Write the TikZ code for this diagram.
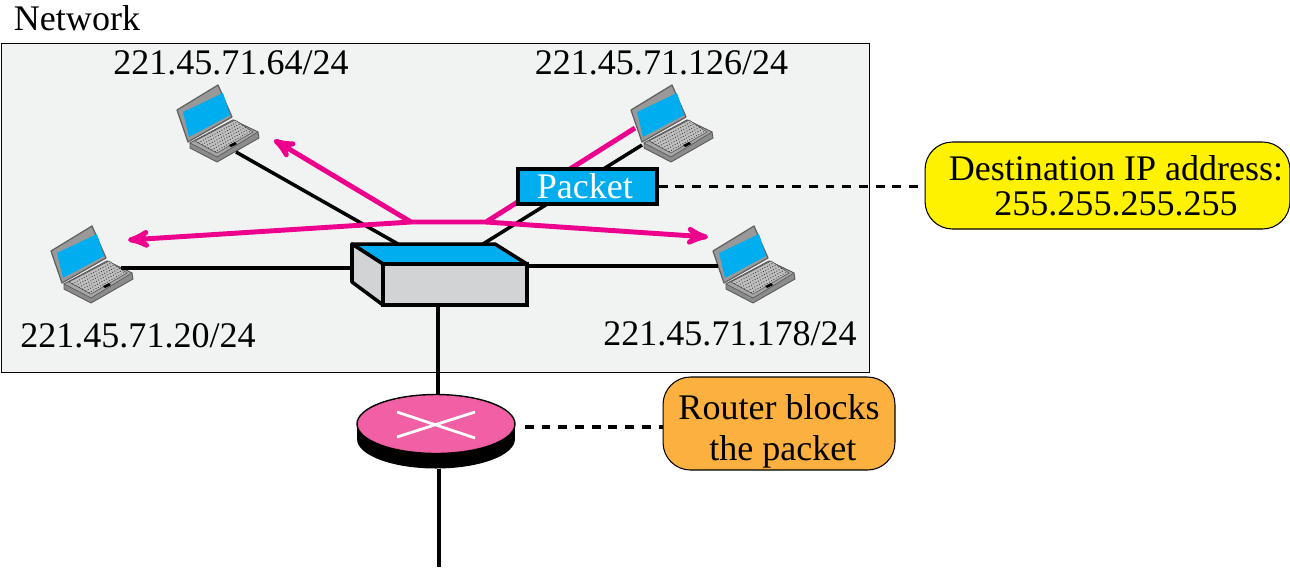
\documentclass[tikz,border=0pt]{standalone}
\usepackage{fontspec}
\setmainfont{Liberation Serif}
\usepackage{tikz}
\usetikzlibrary{arrows,positioning,calc,shapes.geometric}
\definecolor{netgray}{HTML}{F1F2F2}
\definecolor{boxgray}{HTML}{D1D3D4}
\definecolor{pktblue}{HTML}{00AEEF}
\definecolor{flowpink}{HTML}{EC008C}
\definecolor{routerpink}{HTML}{F15FA5}
\definecolor{noteyellow}{HTML}{FFF200}
\definecolor{noteorange}{HTML}{FBB040}
\newcommand{\lbl}{\fontsize{20.5}{20}\selectfont}

\tikzset{
  laptop/.pic={
    \draw[fill=gray!80,draw=gray!75!black,line width=.7pt,line join=round] (0,25) -- (41,0) -- (55,32) -- (11,57) -- cycle;
    \fill[pktblue] (6,27) -- (46,8) -- (53,30) -- (12,52) -- cycle;
    \draw[fill=gray!90,draw=gray!70!black,line width=.5pt,line join=round] (13,58) -- (56,35) -- (81,47) -- (82,53) -- (40,77) -- (13,63) -- cycle;
    \draw[fill=gray!70,draw=gray!70!black,line width=.4pt] (13,58) -- (56,35) -- (81,47) -- (40,72) -- cycle;
    \draw[fill=gray!50,draw=gray!60!black,line width=.3pt] (18,56) -- (58,35) -- (76,47) -- (40,68) -- cycle;
    \foreach \k in {.15,.3,.45,.6,.75,.9}
      \draw[gray!45!black,line width=.5pt,densely dotted] ($(18,56)!\k!(40,68)$) -- ($(58,35)!\k!(76,47)$);
    \fill[black] (52,60) -- (58,57) -- (60,59) -- (54,62) -- cycle;
    \coordinate (-south) at (59,67);
    \coordinate (-west) at (11,60);
    \coordinate (-east) at (70,42);
    \coordinate (-side) at (5,40);
  },
  link/.style={line width=2pt,black},
  leader/.style={line width=2pt,black,dash pattern=on 5pt off 4.5pt},
  flow/.style={line width=2.8pt,flowpink},
  flowhead/.style={flow,-stealth'},
  note/.style={draw=black,line width=.6pt,rounded corners=.55cm,align=center},
  addr/.style={font=\lbl,inner sep=0pt}
}

\begin{document}
\begin{tikzpicture}[x=0.02cm,y=-0.02cm]
  \useasboundingbox (0,0) rectangle (1290,569);

  % network area
  \node[draw=black,line width=.5pt,fill=netgray,minimum width=17.38cm,minimum height=6.58cm,inner sep=0pt] (net) at (435.5,207.5) {};
  \node[addr] (netname) at (77,18) {Network};

  % hosts
  \pic (hostTL) at (177,85) {laptop};
  \pic (hostTR) at (631,85) {laptop};
  \pic (hostL) at (51,226) {laptop};
  \pic (hostR) at (713,226) {laptop};

  \node[addr] (addrTL) at (231,63) {221.45.71.64/24};
  \node[addr] (addrTR) at (661.5,63) {221.45.71.126/24};
  \node[addr] (addrL) at (138,336) {221.45.71.20/24};
  \node[addr] (addrR) at (730,334) {221.45.71.178/24};

  % switch
  \coordinate (swTL) at (398,244);
  \coordinate (swTR) at (483,244);
  \coordinate (swL) at (352,268);
  \coordinate (swR) at (527,266);
  \coordinate (swB) at (438,305);
  \draw[link] (hostTL-south) -- (swTL);
  \draw[link] (hostTR-west) -- (swTR);
  \draw[link] (hostL-east) -- (swL);
  \draw[link] (hostR-side) -- (swR);

  \draw[link,line join=round,fill=pktblue] (352,244) -- (495,244) -- (527,264) -- (383,264) -- cycle;
  \draw[link,line join=round,fill=boxgray] (352,244) -- (383,264) -- (383,305) -- (352,282) -- cycle;
  \node[draw=black,line width=2pt,fill=boxgray,minimum width=2.88cm,minimum height=.82cm,inner sep=0pt] (switch) at (455,284.5) {};

  % broadcast flow
  \coordinate (flowA) at (411,222);
  \coordinate (flowB) at (486,222);
  \coordinate (flowEndTL) at (274,140);
  \coordinate (flowEndL) at (128,240);
  \coordinate (flowEndR) at (708,237);
  \coordinate (flowStart) at (635,128);
  \draw[flow] (flowStart) -- (flowB) -- (flowA);
  \draw[flowhead] (flowA) -- (flowEndTL);
  \draw[flowhead] (flowA) -- (flowEndL);
  \draw[flowhead] (flowB) -- (flowEndR);

  % packet
  \node[draw=black,line width=2pt,fill=pktblue,text=white,font=\lbl,minimum width=2.78cm,minimum height=.7cm,inner sep=0pt] (packet) at (587.5,186.5) {\hspace{-3pt}\raisebox{1pt}{Packet}};
  \node[note,fill=noteyellow,minimum width=7.3cm,minimum height=1.74cm,inner sep=0pt] (destnote) at (1107.5,185.5) {};
  \node[addr,align=center,xshift=.17cm] (desttext) at (destnote) {Destination IP address:\\255.255.255.255};
  \draw[leader] (packet.east) -- (packet.east -| destnote.west);

  % router
  \node[ellipse,fill=black,minimum width=3.16cm,minimum height=1.18cm,inner sep=0pt] (routerbase) at (436,439) {};
  \fill[black] (routerbase.west) rectangle ($(routerbase.east)+(0,-15)$);
  \node[ellipse,draw=black,line width=.8pt,fill=routerpink,minimum width=3.16cm,minimum height=1.18cm,inner sep=0pt] (router) at (436,424) {};
  \draw[white,line width=1.6pt] (397,412) -- (475,438) (397,437) -- (475,412);
  \coordinate (wanEnd) at (439,567);
  \draw[link] (swB) -- (swB |- router.north);
  \draw[link] (wanEnd |- routerbase.south) -- (wanEnd);

  \node[note,fill=noteorange,minimum width=4.64cm,minimum height=1.86cm,inner sep=0pt] (blocknote) at (779,423.5) {};
  \node[addr,align=center,font=\fontsize{20.5}{23.3}\selectfont] (blocktext) at (779,431) {Router blocks\\\hspace*{4.5pt}the packet};
  \coordinate (blockfrom) at (525,427);
  \draw[leader] (blockfrom) -- (blockfrom -| blocknote.west);
\end{tikzpicture}
\end{document}
